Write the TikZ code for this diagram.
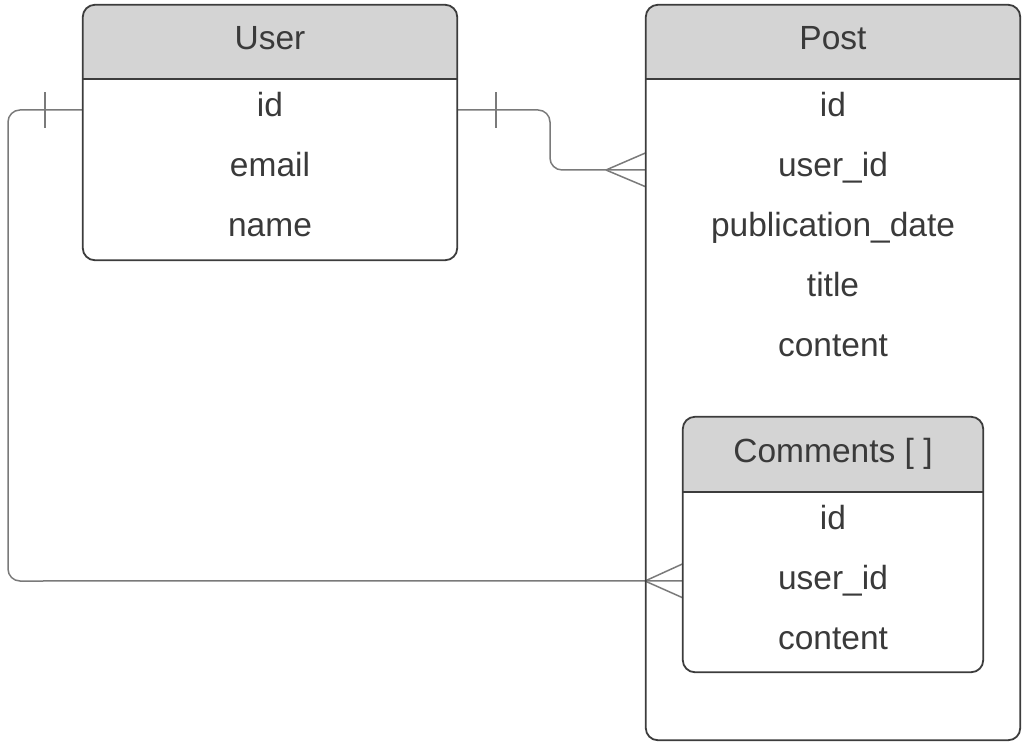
\documentclass[tikz,border=0pt]{standalone}
\usepackage{fontspec}
\setmainfont{Liberation Sans}
\usetikzlibrary{calc}
\definecolor{boxline}{HTML}{3C3C3C}
\definecolor{connline}{HTML}{7A7A7A}
\definecolor{headfill}{HTML}{D4D4D4}
\definecolor{txt}{HTML}{3A3A3A}
\tikzset{
  tablebox/.style={draw=boxline, line width=1.8pt, rounded corners=12pt, inner sep=0pt},
  headband/.style={fill=headfill},
  field/.style={text=txt, font=\fontsize{33.5}{38}\selectfont, inner sep=0pt, anchor=base},
  title/.style={field},
  conn/.style={draw=connline, line width=1.5pt},
}
\begin{document}
\begin{tikzpicture}[x=1pt,y=-1pt]
\useasboundingbox (0,0) rectangle (1028,745);
% node frames (for names)
\node[minimum width=374pt, minimum height=255pt, inner sep=0pt] (user) at (270,132.5) {};
\node[minimum width=374pt, minimum height=735pt, inner sep=0pt] (post) at (833,372.5) {};
\node[minimum width=300pt, minimum height=255pt, inner sep=0pt] (comm) at (833,544.5) {};
% header bands
\fill[headband] ($(user.north west)+(0,74)$) [rounded corners=12pt] -- (user.north west) -- (user.north east) [sharp corners] -- ($(user.north east)+(0,74)$) -- cycle;
\fill[headband] ($(post.north west)+(0,74)$) [rounded corners=12pt] -- (post.north west) -- (post.north east) [sharp corners] -- ($(post.north east)+(0,74)$) -- cycle;
\fill[headband] ($(comm.north west)+(0,75)$) [rounded corners=12pt] -- (comm.north west) -- (comm.north east) [sharp corners] -- ($(comm.north east)+(0,75)$) -- cycle;
% connectors
\draw[conn, rounded corners=12pt] ($(user.north east)+(0,105)$) -- (550,110) -- (550,170) -- ($(post.north west)+(0,165)$);
\draw[conn] (606,170) -- ($(post.north west)+(0,148)$);
\draw[conn] (606,170) -- ($(post.north west)+(0,182)$);
\draw[conn] (496,92) -- (496,128);
\draw[conn, rounded corners=12pt] ($(user.north west)+(0,105)$) -- (8,110) -- (8,581) -- ($(comm.north west)+(0,164)$);
\draw[conn] (645,581) -- ($(comm.north west)+(0,147)$);
\draw[conn] (645,581) -- ($(comm.north west)+(0,181)$);
\draw[conn] (45,92) -- (45,128);
% header lines and frames
\draw[boxline, line width=1.8pt] ($(user.north west)+(0,74)$) -- ($(user.north east)+(0,74)$);
\draw[boxline, line width=1.8pt] ($(post.north west)+(0,74)$) -- ($(post.north east)+(0,74)$);
\draw[boxline, line width=1.8pt] ($(comm.north west)+(0,75)$) -- ($(comm.north east)+(0,75)$);
\draw[tablebox] (user.north west) rectangle (user.south east);
\draw[tablebox] (post.north west) rectangle (post.south east);
\draw[tablebox] (comm.north west) rectangle (comm.south east);
% texts
\node[title] (utitle) at (270,49) {User};
\node[field] (uid) at (270,116) {id};
\node[field] (uemail) at (270,176) {email};
\node[field] (uname) at (270,236) {name};
\node[title] (ptitle) at (833,49) {Post};
\node[field] (pid) at (833,116) {id};
\node[field] (puid) at (833,176) {user\_id};
\node[field] (pdate) at (833,236) {publication\_date};
\node[field] (ptit) at (833,296) {title};
\node[field] (pcont) at (833,356) {content};
\node[title] (ctitle) at (833,462) {Comments [ ]};
\node[field] (cid) at (833,529) {id};
\node[field] (cuid) at (833,589) {user\_id};
\node[field] (ccont) at (833,649) {content};
\end{tikzpicture}
\end{document}
